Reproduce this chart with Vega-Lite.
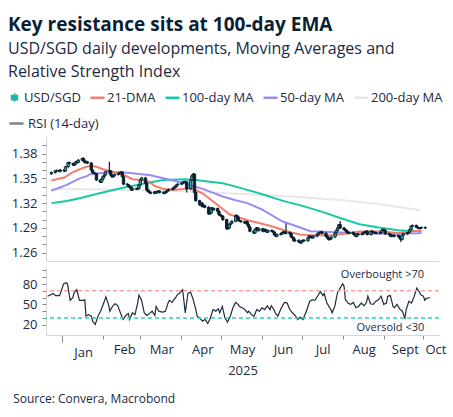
{
  "$schema": "https://vega.github.io/schema/vega-lite/v6.json",
  "padding": {"left": 8, "top": 16, "right": 4, "bottom": 6},
  "title": {
    "text": "Key resistance sits at 100-day EMA",
    "subtitle": ["USD/SGD daily developments, Moving Averages and", "Relative Strength Index"],
    "anchor": "start",
    "frame": "bounds",
    "font": "Open Sans",
    "fontSize": 19,
    "fontWeight": "bold",
    "color": "#0b1f35",
    "subtitleFont": "Open Sans",
    "subtitleFontSize": 16,
    "subtitleColor": "#1b2a45",
    "subtitleLineHeight": 23,
    "subtitlePadding": 6,
    "offset": 11
  },
  "datasets": {
    "candles": [
      {"d":"2024-12-20","o":1.3555,"h":1.3582,"l":1.3543,"c":1.3570},
      {"d":"2024-12-23","o":1.3570,"h":1.3602,"l":1.3558,"c":1.3590},
      {"d":"2024-12-24","o":1.3590,"h":1.3607,"l":1.3578,"c":1.3595},
      {"d":"2024-12-26","o":1.3595,"h":1.3607,"l":1.3573,"c":1.3585},
      {"d":"2024-12-27","o":1.3585,"h":1.3612,"l":1.3573,"c":1.3600},
      {"d":"2024-12-30","o":1.3600,"h":1.3612,"l":1.3578,"c":1.3590},
      {"d":"2024-12-31","o":1.3590,"h":1.3652,"l":1.3578,"c":1.3640},
      {"d":"2025-01-02","o":1.3640,"h":1.3702,"l":1.3628,"c":1.3690},
      {"d":"2025-01-03","o":1.3690,"h":1.3702,"l":1.3668,"c":1.3680},
      {"d":"2025-01-06","o":1.3680,"h":1.3692,"l":1.3648,"c":1.3660},
      {"d":"2025-01-07","o":1.3660,"h":1.3687,"l":1.3648,"c":1.3675},
      {"d":"2025-01-08","o":1.3675,"h":1.3712,"l":1.3663,"c":1.3700},
      {"d":"2025-01-09","o":1.3700,"h":1.3712,"l":1.3683,"c":1.3695},
      {"d":"2025-01-10","o":1.3695,"h":1.3732,"l":1.3683,"c":1.3720},
      {"d":"2025-01-13","o":1.3720,"h":1.3752,"l":1.3708,"c":1.3740},
      {"d":"2025-01-14","o":1.3740,"h":1.3752,"l":1.3698,"c":1.3710},
      {"d":"2025-01-15","o":1.3710,"h":1.3722,"l":1.3678,"c":1.3690},
      {"d":"2025-01-16","o":1.3690,"h":1.3712,"l":1.3678,"c":1.3700},
      {"d":"2025-01-17","o":1.3700,"h":1.3712,"l":1.3673,"c":1.3685},
      {"d":"2025-01-20","o":1.3685,"h":1.3697,"l":1.3588,"c":1.3600},
      {"d":"2025-01-21","o":1.3600,"h":1.3612,"l":1.3558,"c":1.3570},
      {"d":"2025-01-22","o":1.3570,"h":1.3582,"l":1.3548,"c":1.3560},
      {"d":"2025-01-23","o":1.3560,"h":1.3572,"l":1.3543,"c":1.3555},
      {"d":"2025-01-24","o":1.3555,"h":1.3567,"l":1.3468,"c":1.3480},
      {"d":"2025-01-27","o":1.3480,"h":1.3492,"l":1.3443,"c":1.3455},
      {"d":"2025-01-28","o":1.3455,"h":1.3502,"l":1.3443,"c":1.3490},
      {"d":"2025-01-29","o":1.3490,"h":1.3532,"l":1.3478,"c":1.3520},
      {"d":"2025-01-30","o":1.3520,"h":1.3552,"l":1.3508,"c":1.3540},
      {"d":"2025-01-31","o":1.3540,"h":1.3592,"l":1.3528,"c":1.3580},
      {"d":"2025-02-03","o":1.3580,"h":1.3700,"l":1.3568,"c":1.3590},
      {"d":"2025-02-04","o":1.3590,"h":1.3602,"l":1.3528,"c":1.3540},
      {"d":"2025-02-05","o":1.3540,"h":1.3552,"l":1.3508,"c":1.3520},
      {"d":"2025-02-06","o":1.3520,"h":1.3542,"l":1.3508,"c":1.3530},
      {"d":"2025-02-07","o":1.3530,"h":1.3557,"l":1.3518,"c":1.3545},
      {"d":"2025-02-10","o":1.3545,"h":1.3572,"l":1.3533,"c":1.3560},
      {"d":"2025-02-11","o":1.3560,"h":1.3582,"l":1.3548,"c":1.3570},
      {"d":"2025-02-12","o":1.3570,"h":1.3587,"l":1.3558,"c":1.3575},
      {"d":"2025-02-13","o":1.3575,"h":1.3587,"l":1.3508,"c":1.3520},
      {"d":"2025-02-14","o":1.3520,"h":1.3532,"l":1.3418,"c":1.3430},
      {"d":"2025-02-17","o":1.3430,"h":1.3442,"l":1.3408,"c":1.3420},
      {"d":"2025-02-18","o":1.3420,"h":1.3432,"l":1.3388,"c":1.3400},
      {"d":"2025-02-19","o":1.3400,"h":1.3412,"l":1.3378,"c":1.3390},
      {"d":"2025-02-20","o":1.3390,"h":1.3402,"l":1.3348,"c":1.3360},
      {"d":"2025-02-21","o":1.3360,"h":1.3387,"l":1.3348,"c":1.3375},
      {"d":"2025-02-24","o":1.3375,"h":1.3387,"l":1.3358,"c":1.3370},
      {"d":"2025-02-25","o":1.3370,"h":1.3392,"l":1.3358,"c":1.3380},
      {"d":"2025-02-26","o":1.3380,"h":1.3432,"l":1.3368,"c":1.3420},
      {"d":"2025-02-27","o":1.3420,"h":1.3492,"l":1.3408,"c":1.3480},
      {"d":"2025-02-28","o":1.3480,"h":1.3517,"l":1.3468,"c":1.3505},
      {"d":"2025-03-03","o":1.3505,"h":1.3517,"l":1.3428,"c":1.3440},
      {"d":"2025-03-04","o":1.3440,"h":1.3452,"l":1.3348,"c":1.3360},
      {"d":"2025-03-05","o":1.3360,"h":1.3372,"l":1.3328,"c":1.3340},
      {"d":"2025-03-06","o":1.3340,"h":1.3352,"l":1.3318,"c":1.3330},
      {"d":"2025-03-07","o":1.3330,"h":1.3342,"l":1.3308,"c":1.3320},
      {"d":"2025-03-10","o":1.3320,"h":1.3347,"l":1.3308,"c":1.3335},
      {"d":"2025-03-11","o":1.3335,"h":1.3347,"l":1.3313,"c":1.3325},
      {"d":"2025-03-12","o":1.3325,"h":1.3352,"l":1.3313,"c":1.3340},
      {"d":"2025-03-13","o":1.3340,"h":1.3357,"l":1.3328,"c":1.3345},
      {"d":"2025-03-14","o":1.3345,"h":1.3357,"l":1.3318,"c":1.3330},
      {"d":"2025-03-17","o":1.3330,"h":1.3342,"l":1.3308,"c":1.3320},
      {"d":"2025-03-18","o":1.3320,"h":1.3342,"l":1.3308,"c":1.3330},
      {"d":"2025-03-19","o":1.3330,"h":1.3352,"l":1.3318,"c":1.3340},
      {"d":"2025-03-20","o":1.3340,"h":1.3367,"l":1.3328,"c":1.3355},
      {"d":"2025-03-21","o":1.3355,"h":1.3377,"l":1.3343,"c":1.3365},
      {"d":"2025-03-24","o":1.3365,"h":1.3387,"l":1.3353,"c":1.3375},
      {"d":"2025-03-25","o":1.3375,"h":1.3402,"l":1.3363,"c":1.3390},
      {"d":"2025-03-26","o":1.3390,"h":1.3412,"l":1.3378,"c":1.3400},
      {"d":"2025-03-27","o":1.3400,"h":1.3432,"l":1.3388,"c":1.3420},
      {"d":"2025-03-28","o":1.3420,"h":1.3442,"l":1.3408,"c":1.3430},
      {"d":"2025-03-31","o":1.3430,"h":1.3452,"l":1.3418,"c":1.3440},
      {"d":"2025-04-01","o":1.3440,"h":1.3467,"l":1.3428,"c":1.3455},
      {"d":"2025-04-02","o":1.3455,"h":1.3472,"l":1.3443,"c":1.3460},
      {"d":"2025-04-03","o":1.3460,"h":1.3472,"l":1.3443,"c":1.3455},
      {"d":"2025-04-04","o":1.3455,"h":1.3467,"l":1.3330,"c":1.3370},
      {"d":"2025-04-07","o":1.3370,"h":1.3492,"l":1.3358,"c":1.3480},
      {"d":"2025-04-08","o":1.3480,"h":1.3542,"l":1.3468,"c":1.3530},
      {"d":"2025-04-09","o":1.3530,"h":1.3565,"l":1.3518,"c":1.3550},
      {"d":"2025-04-10","o":1.3550,"h":1.3562,"l":1.3318,"c":1.3330},
      {"d":"2025-04-11","o":1.3330,"h":1.3342,"l":1.3218,"c":1.3230},
      {"d":"2025-04-14","o":1.3230,"h":1.3242,"l":1.3168,"c":1.3180},
      {"d":"2025-04-15","o":1.3180,"h":1.3212,"l":1.3168,"c":1.3200},
      {"d":"2025-04-16","o":1.3200,"h":1.3212,"l":1.3148,"c":1.3160},
      {"d":"2025-04-17","o":1.3160,"h":1.3182,"l":1.3148,"c":1.3170},
      {"d":"2025-04-18","o":1.3170,"h":1.3182,"l":1.3138,"c":1.3150},
      {"d":"2025-04-21","o":1.3150,"h":1.3162,"l":1.3058,"c":1.3070},
      {"d":"2025-04-22","o":1.3070,"h":1.3092,"l":1.3058,"c":1.3080},
      {"d":"2025-04-23","o":1.3080,"h":1.3152,"l":1.3068,"c":1.3140},
      {"d":"2025-04-24","o":1.3140,"h":1.3152,"l":1.3108,"c":1.3120},
      {"d":"2025-04-25","o":1.3120,"h":1.3147,"l":1.3108,"c":1.3135},
      {"d":"2025-04-28","o":1.3135,"h":1.3147,"l":1.3088,"c":1.3100},
      {"d":"2025-04-29","o":1.3100,"h":1.3112,"l":1.3048,"c":1.3060},
      {"d":"2025-04-30","o":1.3060,"h":1.3072,"l":1.3038,"c":1.3050},
      {"d":"2025-05-01","o":1.3050,"h":1.3062,"l":1.3028,"c":1.3040},
      {"d":"2025-05-02","o":1.3040,"h":1.3052,"l":1.2988,"c":1.3000},
      {"d":"2025-05-05","o":1.3000,"h":1.3012,"l":1.2878,"c":1.2890},
      {"d":"2025-05-06","o":1.2890,"h":1.2912,"l":1.2878,"c":1.2900},
      {"d":"2025-05-07","o":1.2900,"h":1.2952,"l":1.2888,"c":1.2940},
      {"d":"2025-05-08","o":1.2940,"h":1.2972,"l":1.2928,"c":1.2960},
      {"d":"2025-05-09","o":1.2960,"h":1.2992,"l":1.2948,"c":1.2980},
      {"d":"2025-05-12","o":1.2980,"h":1.3062,"l":1.2968,"c":1.3050},
      {"d":"2025-05-13","o":1.3050,"h":1.3062,"l":1.3018,"c":1.3030},
      {"d":"2025-05-14","o":1.3030,"h":1.3042,"l":1.2978,"c":1.2990},
      {"d":"2025-05-15","o":1.2990,"h":1.3002,"l":1.2973,"c":1.2985},
      {"d":"2025-05-16","o":1.2985,"h":1.2997,"l":1.2963,"c":1.2975},
      {"d":"2025-05-19","o":1.2975,"h":1.2987,"l":1.2948,"c":1.2960},
      {"d":"2025-05-20","o":1.2960,"h":1.2987,"l":1.2948,"c":1.2975},
      {"d":"2025-05-21","o":1.2975,"h":1.2987,"l":1.2928,"c":1.2940},
      {"d":"2025-05-22","o":1.2940,"h":1.2952,"l":1.2898,"c":1.2910},
      {"d":"2025-05-23","o":1.2910,"h":1.2922,"l":1.2848,"c":1.2860},
      {"d":"2025-05-26","o":1.2860,"h":1.2872,"l":1.2828,"c":1.2840},
      {"d":"2025-05-27","o":1.2840,"h":1.2892,"l":1.2828,"c":1.2880},
      {"d":"2025-05-28","o":1.2880,"h":1.2912,"l":1.2868,"c":1.2900},
      {"d":"2025-05-29","o":1.2900,"h":1.2912,"l":1.2858,"c":1.2870},
      {"d":"2025-05-30","o":1.2870,"h":1.2902,"l":1.2858,"c":1.2890},
      {"d":"2025-06-02","o":1.2890,"h":1.2902,"l":1.2848,"c":1.2860},
      {"d":"2025-06-03","o":1.2860,"h":1.2892,"l":1.2848,"c":1.2880},
      {"d":"2025-06-04","o":1.2880,"h":1.2892,"l":1.2853,"c":1.2865},
      {"d":"2025-06-05","o":1.2865,"h":1.2877,"l":1.2838,"c":1.2850},
      {"d":"2025-06-06","o":1.2850,"h":1.2882,"l":1.2838,"c":1.2870},
      {"d":"2025-06-09","o":1.2870,"h":1.2882,"l":1.2848,"c":1.2860},
      {"d":"2025-06-10","o":1.2860,"h":1.2872,"l":1.2838,"c":1.2850},
      {"d":"2025-06-11","o":1.2850,"h":1.2862,"l":1.2803,"c":1.2815},
      {"d":"2025-06-12","o":1.2815,"h":1.2827,"l":1.2788,"c":1.2800},
      {"d":"2025-06-13","o":1.2800,"h":1.2832,"l":1.2788,"c":1.2820},
      {"d":"2025-06-16","o":1.2820,"h":1.2842,"l":1.2808,"c":1.2830},
      {"d":"2025-06-17","o":1.2830,"h":1.2857,"l":1.2818,"c":1.2845},
      {"d":"2025-06-18","o":1.2845,"h":1.2862,"l":1.2833,"c":1.2850},
      {"d":"2025-06-19","o":1.2850,"h":1.2862,"l":1.2823,"c":1.2835},
      {"d":"2025-06-20","o":1.2835,"h":1.2955,"l":1.2823,"c":1.2845},
      {"d":"2025-06-23","o":1.2845,"h":1.2857,"l":1.2818,"c":1.2830},
      {"d":"2025-06-24","o":1.2830,"h":1.2842,"l":1.2778,"c":1.2790},
      {"d":"2025-06-25","o":1.2790,"h":1.2802,"l":1.2768,"c":1.2780},
      {"d":"2025-06-26","o":1.2780,"h":1.2792,"l":1.2733,"c":1.2745},
      {"d":"2025-06-27","o":1.2745,"h":1.2762,"l":1.2733,"c":1.2750},
      {"d":"2025-06-30","o":1.2750,"h":1.2762,"l":1.2718,"c":1.2730},
      {"d":"2025-07-01","o":1.2730,"h":1.2742,"l":1.2708,"c":1.2720},
      {"d":"2025-07-02","o":1.2720,"h":1.2752,"l":1.2708,"c":1.2740},
      {"d":"2025-07-03","o":1.2740,"h":1.2762,"l":1.2728,"c":1.2750},
      {"d":"2025-07-04","o":1.2750,"h":1.2762,"l":1.2733,"c":1.2745},
      {"d":"2025-07-07","o":1.2745,"h":1.2792,"l":1.2733,"c":1.2780},
      {"d":"2025-07-08","o":1.2780,"h":1.2812,"l":1.2768,"c":1.2800},
      {"d":"2025-07-09","o":1.2800,"h":1.2812,"l":1.2778,"c":1.2790},
      {"d":"2025-07-10","o":1.2790,"h":1.2802,"l":1.2768,"c":1.2780},
      {"d":"2025-07-11","o":1.2780,"h":1.2812,"l":1.2768,"c":1.2800},
      {"d":"2025-07-14","o":1.2800,"h":1.2832,"l":1.2788,"c":1.2820},
      {"d":"2025-07-15","o":1.2820,"h":1.2852,"l":1.2808,"c":1.2840},
      {"d":"2025-07-16","o":1.2840,"h":1.2857,"l":1.2828,"c":1.2845},
      {"d":"2025-07-17","o":1.2845,"h":1.2862,"l":1.2833,"c":1.2850},
      {"d":"2025-07-18","o":1.2850,"h":1.2862,"l":1.2823,"c":1.2835},
      {"d":"2025-07-21","o":1.2835,"h":1.2847,"l":1.2788,"c":1.2800},
      {"d":"2025-07-22","o":1.2800,"h":1.2812,"l":1.2768,"c":1.2780},
      {"d":"2025-07-23","o":1.2780,"h":1.2792,"l":1.2748,"c":1.2760},
      {"d":"2025-07-24","o":1.2760,"h":1.2782,"l":1.2748,"c":1.2770},
      {"d":"2025-07-25","o":1.2770,"h":1.2802,"l":1.2758,"c":1.2790},
      {"d":"2025-07-28","o":1.2790,"h":1.2852,"l":1.2778,"c":1.2840},
      {"d":"2025-07-29","o":1.2840,"h":1.2882,"l":1.2828,"c":1.2870},
      {"d":"2025-07-30","o":1.2870,"h":1.2912,"l":1.2858,"c":1.2900},
      {"d":"2025-07-31","o":1.2900,"h":1.2952,"l":1.2888,"c":1.2940},
      {"d":"2025-08-01","o":1.2940,"h":1.2985,"l":1.2888,"c":1.2900},
      {"d":"2025-08-04","o":1.2900,"h":1.2912,"l":1.2868,"c":1.2880},
      {"d":"2025-08-05","o":1.2880,"h":1.2892,"l":1.2858,"c":1.2870},
      {"d":"2025-08-06","o":1.2870,"h":1.2882,"l":1.2838,"c":1.2850},
      {"d":"2025-08-07","o":1.2850,"h":1.2862,"l":1.2823,"c":1.2835},
      {"d":"2025-08-08","o":1.2835,"h":1.2857,"l":1.2823,"c":1.2845},
      {"d":"2025-08-11","o":1.2845,"h":1.2857,"l":1.2818,"c":1.2830},
      {"d":"2025-08-12","o":1.2830,"h":1.2842,"l":1.2803,"c":1.2815},
      {"d":"2025-08-13","o":1.2815,"h":1.2827,"l":1.2788,"c":1.2800},
      {"d":"2025-08-14","o":1.2800,"h":1.2837,"l":1.2788,"c":1.2825},
      {"d":"2025-08-15","o":1.2825,"h":1.2837,"l":1.2808,"c":1.2820},
      {"d":"2025-08-18","o":1.2820,"h":1.2842,"l":1.2808,"c":1.2830},
      {"d":"2025-08-19","o":1.2830,"h":1.2857,"l":1.2818,"c":1.2845},
      {"d":"2025-08-20","o":1.2845,"h":1.2862,"l":1.2833,"c":1.2850},
      {"d":"2025-08-21","o":1.2850,"h":1.2872,"l":1.2838,"c":1.2860},
      {"d":"2025-08-22","o":1.2860,"h":1.2872,"l":1.2808,"c":1.2820},
      {"d":"2025-08-25","o":1.2820,"h":1.2872,"l":1.2808,"c":1.2860},
      {"d":"2025-08-26","o":1.2860,"h":1.2872,"l":1.2838,"c":1.2850},
      {"d":"2025-08-27","o":1.2850,"h":1.2862,"l":1.2833,"c":1.2845},
      {"d":"2025-08-28","o":1.2845,"h":1.2857,"l":1.2828,"c":1.2840},
      {"d":"2025-08-29","o":1.2840,"h":1.2852,"l":1.2823,"c":1.2835},
      {"d":"2025-09-01","o":1.2835,"h":1.2857,"l":1.2823,"c":1.2845},
      {"d":"2025-09-02","o":1.2845,"h":1.2882,"l":1.2833,"c":1.2870},
      {"d":"2025-09-03","o":1.2870,"h":1.2892,"l":1.2858,"c":1.2880},
      {"d":"2025-09-04","o":1.2880,"h":1.2892,"l":1.2858,"c":1.2870},
      {"d":"2025-09-05","o":1.2870,"h":1.2882,"l":1.2818,"c":1.2830},
      {"d":"2025-09-08","o":1.2830,"h":1.2842,"l":1.2808,"c":1.2820},
      {"d":"2025-09-09","o":1.2820,"h":1.2832,"l":1.2788,"c":1.2800},
      {"d":"2025-09-10","o":1.2800,"h":1.2822,"l":1.2788,"c":1.2810},
      {"d":"2025-09-11","o":1.2810,"h":1.2822,"l":1.2788,"c":1.2800},
      {"d":"2025-09-12","o":1.2800,"h":1.2822,"l":1.2788,"c":1.2810},
      {"d":"2025-09-15","o":1.2810,"h":1.2822,"l":1.2788,"c":1.2800},
      {"d":"2025-09-16","o":1.2800,"h":1.2812,"l":1.2768,"c":1.2780},
      {"d":"2025-09-17","o":1.2780,"h":1.2792,"l":1.2730,"c":1.2760},
      {"d":"2025-09-18","o":1.2760,"h":1.2822,"l":1.2748,"c":1.2810},
      {"d":"2025-09-19","o":1.2810,"h":1.2842,"l":1.2798,"c":1.2830},
      {"d":"2025-09-22","o":1.2830,"h":1.2852,"l":1.2818,"c":1.2840},
      {"d":"2025-09-23","o":1.2840,"h":1.2862,"l":1.2828,"c":1.2850},
      {"d":"2025-09-24","o":1.2850,"h":1.2892,"l":1.2838,"c":1.2880},
      {"d":"2025-09-25","o":1.2880,"h":1.2932,"l":1.2868,"c":1.2920},
      {"d":"2025-09-26","o":1.2920,"h":1.2942,"l":1.2908,"c":1.2930},
      {"d":"2025-09-29","o":1.2930,"h":1.2942,"l":1.2898,"c":1.2910},
      {"d":"2025-09-30","o":1.2910,"h":1.2922,"l":1.2888,"c":1.2900},
      {"d":"2025-10-01","o":1.2900,"h":1.2912,"l":1.2883,"c":1.2895},
      {"d":"2025-10-02","o":1.2895,"h":1.2912,"l":1.2883,"c":1.2900},
      {"d":"2025-10-03","o":1.2900,"h":1.2917,"l":1.2888,"c":1.2905},
      {"d":"2025-10-06","o":1.2905,"h":1.2917,"l":1.2888,"c":1.2900}
    ],
    "ma": [
      {"d":"2024-12-20","s":"200-day MA","v":1.3370},
      {"d":"2025-02-01","s":"200-day MA","v":1.3365},
      {"d":"2025-03-02","s":"200-day MA","v":1.3355},
      {"d":"2025-04-02","s":"200-day MA","v":1.3345},
      {"d":"2025-04-17","s":"200-day MA","v":1.3335},
      {"d":"2025-05-17","s":"200-day MA","v":1.3310},
      {"d":"2025-06-24","s":"200-day MA","v":1.3280},
      {"d":"2025-08-04","s":"200-day MA","v":1.3235},
      {"d":"2025-09-01","s":"200-day MA","v":1.3187},
      {"d":"2025-10-02","s":"200-day MA","v":1.3114},
      {"d":"2024-12-20","s":"100-day MA","v":1.3200},
      {"d":"2025-01-01","s":"100-day MA","v":1.3227},
      {"d":"2025-01-11","s":"100-day MA","v":1.3260},
      {"d":"2025-01-24","s":"100-day MA","v":1.3310},
      {"d":"2025-02-06","s":"100-day MA","v":1.3360},
      {"d":"2025-02-18","s":"100-day MA","v":1.3400},
      {"d":"2025-02-28","s":"100-day MA","v":1.3430},
      {"d":"2025-03-06","s":"100-day MA","v":1.3450},
      {"d":"2025-03-17","s":"100-day MA","v":1.3480},
      {"d":"2025-04-02","s":"100-day MA","v":1.3490},
      {"d":"2025-04-11","s":"100-day MA","v":1.3480},
      {"d":"2025-04-22","s":"100-day MA","v":1.3460},
      {"d":"2025-05-02","s":"100-day MA","v":1.3440},
      {"d":"2025-05-12","s":"100-day MA","v":1.3400},
      {"d":"2025-05-21","s":"100-day MA","v":1.3360},
      {"d":"2025-06-01","s":"100-day MA","v":1.3310},
      {"d":"2025-06-17","s":"100-day MA","v":1.3230},
      {"d":"2025-07-02","s":"100-day MA","v":1.3170},
      {"d":"2025-07-17","s":"100-day MA","v":1.3100},
      {"d":"2025-08-01","s":"100-day MA","v":1.3020},
      {"d":"2025-08-16","s":"100-day MA","v":1.2944},
      {"d":"2025-08-31","s":"100-day MA","v":1.2904},
      {"d":"2025-09-15","s":"100-day MA","v":1.2872},
      {"d":"2025-09-25","s":"100-day MA","v":1.2864},
      {"d":"2025-10-03","s":"100-day MA","v":1.2860},
      {"d":"2024-12-20","s":"50-day MA","v":1.3350},
      {"d":"2025-01-01","s":"50-day MA","v":1.3420},
      {"d":"2025-01-11","s":"50-day MA","v":1.3500},
      {"d":"2025-01-17","s":"50-day MA","v":1.3530},
      {"d":"2025-01-19","s":"50-day MA","v":1.3550},
      {"d":"2025-02-01","s":"50-day MA","v":1.3570},
      {"d":"2025-02-15","s":"50-day MA","v":1.3570},
      {"d":"2025-02-28","s":"50-day MA","v":1.3550},
      {"d":"2025-03-06","s":"50-day MA","v":1.3540},
      {"d":"2025-03-17","s":"50-day MA","v":1.3500},
      {"d":"2025-04-02","s":"50-day MA","v":1.3440},
      {"d":"2025-04-17","s":"50-day MA","v":1.3370},
      {"d":"2025-05-02","s":"50-day MA","v":1.3280},
      {"d":"2025-05-12","s":"50-day MA","v":1.3235},
      {"d":"2025-05-21","s":"50-day MA","v":1.3200},
      {"d":"2025-06-01","s":"50-day MA","v":1.3126},
      {"d":"2025-06-17","s":"50-day MA","v":1.2980},
      {"d":"2025-07-02","s":"50-day MA","v":1.2900},
      {"d":"2025-07-09","s":"50-day MA","v":1.2860},
      {"d":"2025-07-17","s":"50-day MA","v":1.2856},
      {"d":"2025-07-24","s":"50-day MA","v":1.2850},
      {"d":"2025-08-01","s":"50-day MA","v":1.2845},
      {"d":"2025-08-16","s":"50-day MA","v":1.2835},
      {"d":"2025-08-31","s":"50-day MA","v":1.2830},
      {"d":"2025-09-15","s":"50-day MA","v":1.2830},
      {"d":"2025-09-30","s":"50-day MA","v":1.2835},
      {"d":"2025-10-03","s":"50-day MA","v":1.2840},
      {"d":"2024-12-20","s":"21-DMA","v":1.3475},
      {"d":"2024-12-30","s":"21-DMA","v":1.3510},
      {"d":"2025-01-05","s":"21-DMA","v":1.3570},
      {"d":"2025-01-11","s":"21-DMA","v":1.3610},
      {"d":"2025-01-16","s":"21-DMA","v":1.3640},
      {"d":"2025-01-20","s":"21-DMA","v":1.3650},
      {"d":"2025-01-24","s":"21-DMA","v":1.3640},
      {"d":"2025-01-29","s":"21-DMA","v":1.3610},
      {"d":"2025-02-06","s":"21-DMA","v":1.3580},
      {"d":"2025-02-13","s":"21-DMA","v":1.3550},
      {"d":"2025-02-21","s":"21-DMA","v":1.3490},
      {"d":"2025-02-28","s":"21-DMA","v":1.3480},
      {"d":"2025-03-06","s":"21-DMA","v":1.3460},
      {"d":"2025-03-10","s":"21-DMA","v":1.3410},
      {"d":"2025-03-17","s":"21-DMA","v":1.3370},
      {"d":"2025-03-25","s":"21-DMA","v":1.3360},
      {"d":"2025-04-01","s":"21-DMA","v":1.3370},
      {"d":"2025-04-07","s":"21-DMA","v":1.3390},
      {"d":"2025-04-11","s":"21-DMA","v":1.3360},
      {"d":"2025-04-17","s":"21-DMA","v":1.3310},
      {"d":"2025-04-22","s":"21-DMA","v":1.3250},
      {"d":"2025-04-27","s":"21-DMA","v":1.3190},
      {"d":"2025-05-02","s":"21-DMA","v":1.3130},
      {"d":"2025-05-07","s":"21-DMA","v":1.3065},
      {"d":"2025-05-12","s":"21-DMA","v":1.3040},
      {"d":"2025-05-17","s":"21-DMA","v":1.3015},
      {"d":"2025-05-22","s":"21-DMA","v":1.2990},
      {"d":"2025-05-30","s":"21-DMA","v":1.2960},
      {"d":"2025-06-09","s":"21-DMA","v":1.2920},
      {"d":"2025-06-16","s":"21-DMA","v":1.2885},
      {"d":"2025-06-24","s":"21-DMA","v":1.2845},
      {"d":"2025-07-01","s":"21-DMA","v":1.2820},
      {"d":"2025-07-09","s":"21-DMA","v":1.2810},
      {"d":"2025-07-16","s":"21-DMA","v":1.2810},
      {"d":"2025-07-24","s":"21-DMA","v":1.2810},
      {"d":"2025-07-31","s":"21-DMA","v":1.2820},
      {"d":"2025-08-08","s":"21-DMA","v":1.2840},
      {"d":"2025-08-16","s":"21-DMA","v":1.2856},
      {"d":"2025-08-31","s":"21-DMA","v":1.2856},
      {"d":"2025-09-15","s":"21-DMA","v":1.2840},
      {"d":"2025-09-25","s":"21-DMA","v":1.2856},
      {"d":"2025-10-03","s":"21-DMA","v":1.2870}
    ],
    "rsi": [
      {"d":"2024-12-21","v":62},{"d":"2024-12-25","v":66},{"d":"2024-12-27","v":63},{"d":"2024-12-30","v":63},
      {"d":"2024-12-31","v":68},{"d":"2025-01-02","v":80},{"d":"2025-01-04","v":82},{"d":"2025-01-05","v":80},
      {"d":"2025-01-07","v":56},{"d":"2025-01-09","v":60},{"d":"2025-01-10","v":67},{"d":"2025-01-12","v":71.7},
      {"d":"2025-01-14","v":56},{"d":"2025-01-17","v":56},{"d":"2025-01-18","v":57},{"d":"2025-01-19","v":32.7},
      {"d":"2025-01-21","v":35},{"d":"2025-01-23","v":32.7},{"d":"2025-01-24","v":25.4},{"d":"2025-01-26","v":20.5},
      {"d":"2025-01-28","v":32.7},{"d":"2025-01-30","v":40},{"d":"2025-02-01","v":50},{"d":"2025-02-03","v":61},
      {"d":"2025-02-05","v":50},{"d":"2025-02-06","v":40},{"d":"2025-02-08","v":47},{"d":"2025-02-10","v":51},
      {"d":"2025-02-12","v":48},{"d":"2025-02-14","v":37.6},{"d":"2025-02-16","v":27.8},{"d":"2025-02-18","v":33.7},
      {"d":"2025-02-20","v":36.6},{"d":"2025-02-21","v":27.8},{"d":"2025-02-23","v":37.6},{"d":"2025-02-25","v":35},
      {"d":"2025-02-27","v":52},{"d":"2025-02-28","v":63.5},{"d":"2025-03-02","v":56},{"d":"2025-03-04","v":37.6},
      {"d":"2025-03-06","v":33.7},{"d":"2025-03-08","v":36.6},{"d":"2025-03-10","v":40},{"d":"2025-03-12","v":33.7},
      {"d":"2025-03-13","v":47},{"d":"2025-03-15","v":40},{"d":"2025-03-18","v":38.6},{"d":"2025-03-20","v":40},
      {"d":"2025-03-22","v":52},{"d":"2025-03-23","v":56},{"d":"2025-03-25","v":53},{"d":"2025-03-28","v":61},
      {"d":"2025-03-29","v":64},{"d":"2025-03-31","v":67},{"d":"2025-04-02","v":71.7},{"d":"2025-04-04","v":37.6},
      {"d":"2025-04-06","v":66},{"d":"2025-04-08","v":68},{"d":"2025-04-10","v":57},{"d":"2025-04-12","v":42.4},
      {"d":"2025-04-13","v":32.7},{"d":"2025-04-15","v":30},{"d":"2025-04-17","v":25.4},{"d":"2025-04-19","v":27.8},
      {"d":"2025-04-21","v":22},{"d":"2025-04-23","v":30},{"d":"2025-04-25","v":42.4},{"d":"2025-04-27","v":40},
      {"d":"2025-04-29","v":43.4},{"d":"2025-04-30","v":37.6},{"d":"2025-05-02","v":47},{"d":"2025-05-04","v":30},
      {"d":"2025-05-06","v":23.9},{"d":"2025-05-08","v":32.7},{"d":"2025-05-10","v":45},{"d":"2025-05-12","v":53},
      {"d":"2025-05-14","v":50},{"d":"2025-05-15","v":47},{"d":"2025-05-17","v":45},{"d":"2025-05-19","v":42.4},
      {"d":"2025-05-21","v":37.6},{"d":"2025-05-22","v":40},{"d":"2025-05-24","v":35},{"d":"2025-05-26","v":32.7},
      {"d":"2025-05-28","v":42.4},{"d":"2025-05-30","v":40},{"d":"2025-06-01","v":45},{"d":"2025-06-03","v":42.4},
      {"d":"2025-06-05","v":48},{"d":"2025-06-07","v":42.4},{"d":"2025-06-08","v":48},{"d":"2025-06-10","v":42.4},
      {"d":"2025-06-11","v":37.6},{"d":"2025-06-13","v":32.7},{"d":"2025-06-15","v":42.4},{"d":"2025-06-17","v":50},
      {"d":"2025-06-18","v":53},{"d":"2025-06-20","v":52},{"d":"2025-06-22","v":42.4},{"d":"2025-06-24","v":37.6},
      {"d":"2025-06-26","v":33.7},{"d":"2025-06-28","v":27.8},{"d":"2025-06-30","v":31},{"d":"2025-07-02","v":27.8},
      {"d":"2025-07-03","v":32.7},{"d":"2025-07-05","v":42.4},{"d":"2025-07-07","v":54.6},{"d":"2025-07-09","v":57},
      {"d":"2025-07-11","v":56},{"d":"2025-07-13","v":62},{"d":"2025-07-15","v":69},{"d":"2025-07-17","v":63},
      {"d":"2025-07-18","v":66},{"d":"2025-07-20","v":52},{"d":"2025-07-23","v":42.4},{"d":"2025-07-24","v":37.6},
      {"d":"2025-07-26","v":47},{"d":"2025-07-28","v":67},{"d":"2025-07-30","v":74},{"d":"2025-08-01","v":80.5},
      {"d":"2025-08-02","v":76.6},{"d":"2025-08-03","v":57},{"d":"2025-08-05","v":52},{"d":"2025-08-07","v":50},
      {"d":"2025-08-09","v":53},{"d":"2025-08-11","v":45},{"d":"2025-08-13","v":47},{"d":"2025-08-15","v":52},
      {"d":"2025-08-17","v":48},{"d":"2025-08-19","v":53},{"d":"2025-08-20","v":62},{"d":"2025-08-22","v":51},
      {"d":"2025-08-24","v":50},{"d":"2025-08-26","v":54.6},{"d":"2025-08-28","v":57},{"d":"2025-08-30","v":62},
      {"d":"2025-09-01","v":50},{"d":"2025-09-03","v":52},{"d":"2025-09-04","v":62},{"d":"2025-09-06","v":63},
      {"d":"2025-09-08","v":47},{"d":"2025-09-09","v":45},{"d":"2025-09-11","v":50},{"d":"2025-09-13","v":43.4},
      {"d":"2025-09-15","v":40},{"d":"2025-09-17","v":30},{"d":"2025-09-18","v":42.4},{"d":"2025-09-20","v":54.6},
      {"d":"2025-09-22","v":52},{"d":"2025-09-24","v":62},{"d":"2025-09-26","v":74},{"d":"2025-09-28","v":68},
      {"d":"2025-09-29","v":64},{"d":"2025-10-01","v":62},{"d":"2025-10-02","v":56},{"d":"2025-10-03","v":58.6},
      {"d":"2025-10-06","v":60}
    ]
  },
  "vconcat": [
    {
      "width": 393,
      "height": 124,
      "data": {"name": "candles"},
      "encoding": {
        "x": {
          "field": "d",
          "type": "temporal",
          "scale": {"domain": [{"year": 2024, "month": 12, "date": 19, "hours": 18}, {"year": 2025, "month": 10, "date": 12, "hours": 18}]},
          "axis": {"labels": false, "ticks": false, "title": null, "grid": false, "domainColor": "#d6d6d6"}
        }
      },
      "layer": [
        {
          "data": {"name": "ma"},
          "mark": {"type": "line", "strokeWidth": 2},
          "encoding": {
            "y": {
              "field": "v",
              "type": "quantitative",
              "scale": {"domain": [1.25, 1.40], "nice": false, "zero": false},
              "axis": {
                "orient": "left",
                "title": null,
                "grid": false,
                "values": [1.26, 1.29, 1.32, 1.35, 1.38],
                "format": ".2f",
                "labelOverlap": false,
                "tickSize": 4,
                "tickColor": "#8c8c8c",
                "domainColor": "#d6d6d6",
                "labelPadding": 5,
                "labelFontSize": 13,
                "labelColor": "#1b2a45"
              }
            },
            "color": {
              "field": "s",
              "type": "nominal",
              "scale": {
                "domain": ["USD/SGD", "21-DMA", "100-day MA", "50-day MA", "200-day MA"],
                "range": ["#1fb5a3", "#f07d6e", "#19c9a5", "#9a8cf2", "#e8e8e8"]
              },
              "legend": {
                "orient": "none",
                "legendX": -38,
                "legendY": -46,
                "direction": "horizontal",
                "title": null,
                "labelFontSize": 13,
                "labelColor": "#1b2a45",
                "labelOffset": 3,
                "columnPadding": 4,
                "symbolSize": 196,
                "symbolType": "stroke",
                "symbolStrokeWidth": 2.5,
                "padding": 0,
                "encode": {
                  "symbols": {
                    "update": {
                      "shape": {"signal": "datum.value == 'USD/SGD' ? 'M-0.42,-0.3H0.42V0.3H-0.42Z M0,-0.6V-0.3 M0,0.3V0.6' : 'stroke'"},
                      "fill": {"signal": "datum.value == 'USD/SGD' ? '#1fb5a3' : 'transparent'"},
                      "stroke": {"signal": "datum.value == 'USD/SGD' ? '#0b1d2c' : scale('color', datum.value)"},
                      "strokeWidth": {"signal": "datum.value == 'USD/SGD' ? 1.6 : 2.5"}
                    }
                  }
                }
              }
            },
            "strokeWidth": {"condition": {"test": "datum.s === '200-day MA'", "value": 2.6}, "value": 2},
            "order": {"field": "d", "type": "temporal"}
          }
        },
        {
          "mark": {"type": "rule", "color": "#0b1d2c", "strokeWidth": 1.2},
          "encoding": {
            "y": {
              "field": "l",
              "type": "quantitative",
              "axis": {
                "orient": "left",
                "title": null,
                "grid": false,
                "labels": false,
                "domain": false,
                "values": [1.26, 1.27, 1.28, 1.29, 1.30, 1.31, 1.32, 1.33, 1.34, 1.35, 1.36, 1.37, 1.38, 1.39],
                "tickSize": 4,
                "tickColor": "#8c8c8c"
              }
            },
            "y2": {"field": "h"}
          }
        },
        {
          "mark": {"type": "bar", "width": 2.4, "stroke": "#0b1d2c", "strokeWidth": 0.9},
          "encoding": {
            "y": {"field": "o", "type": "quantitative", "axis": null},
            "y2": {"field": "c"},
            "color": {"condition": {"test": "datum.c < datum.o", "value": "#0b1d2c"}, "datum": "USD/SGD"}
          }
        }
      ],
      "resolve": {"axis": {"y": "independent"}}
    },
    {
      "width": 393,
      "height": 68,
      "title": {
        "text": "Source: Convera, Macrobond",
        "orient": "bottom",
        "anchor": "start",
        "frame": "bounds",
        "font": "Open Sans",
        "fontSize": 12,
        "fontWeight": "normal",
        "color": "#1b2a45",
        "offset": 17,
        "dx": -9
      },
      "layer": [
        {
          "data": {"name": "rsi"},
          "mark": {"type": "line", "strokeWidth": 1.2, "color": "#1e2c3b"},
          "encoding": {
            "x": {
              "field": "d",
              "type": "temporal",
              "scale": {"domain": [{"year": 2024, "month": 12, "date": 19, "hours": 18}, {"year": 2025, "month": 10, "date": 12, "hours": 18}]},
              "axis": {
                "title": "2025",
                "titleFontWeight": "normal",
                "titleFontSize": 13,
                "titleColor": "#1b2a45",
                "titlePadding": 5,
                "grid": false,
                "values": [
                  {"year": 2025, "month": 1, "date": 1}, {"year": 2025, "month": 2, "date": 1},
                  {"year": 2025, "month": 3, "date": 1}, {"year": 2025, "month": 4, "date": 1},
                  {"year": 2025, "month": 5, "date": 1}, {"year": 2025, "month": 6, "date": 1},
                  {"year": 2025, "month": 7, "date": 1}, {"year": 2025, "month": 8, "date": 1},
                  {"year": 2025, "month": 9, "date": 1}, {"year": 2025, "month": 10, "date": 1}
                ],
                "labelExpr": "month(datum.value) == 8 ? 'Sept' : timeFormat(datum.value, '%b')",
                "labelOffset": {"condition": {"test": "month(datum.value) == 9", "value": 12}, "value": 21},
                "tickSize": {"condition": {"test": "month(datum.value) == 0", "value": 7}, "value": 4},
                "labelFlush": false,
                "labelOverlap": false,
                "labelPadding": 4,
                "labelFontSize": 13,
                "labelColor": "#1b2a45",
                "tickColor": "#8c8c8c",
                "domainColor": "#d6d6d6"
              }
            },
            "y": {
              "field": "v",
              "type": "quantitative",
              "scale": {"domain": [5, 105], "nice": false, "zero": false},
              "axis": {
                "orient": "left",
                "title": null,
                "grid": false,
                "values": [20, 50, 80],
                "labelOverlap": false,
                "tickSize": 4,
                "tickColor": "#8c8c8c",
                "domainColor": "#d6d6d6",
                "labelPadding": 5,
                "labelFontSize": 13,
                "labelColor": "#1b2a45"
              }
            },
            "strokeDash": {
              "datum": "RSI (14-day)",
              "scale": {"domain": ["RSI (14-day)"], "range": [[1, 0]]},
              "legend": {
                "orient": "none",
                "legendX": -38,
                "legendY": -22,
                "title": null,
                "labelFontSize": 13,
                "labelColor": "#1b2a45",
                "labelOffset": 3,
                "symbolSize": 196,
                "symbolType": "stroke",
                "symbolStrokeWidth": 2.5,
                "symbolStrokeColor": "#7b848d",
                "padding": 0
              }
            }
          }
        },
        {
          "data": {"values": [{"level": 70}]},
          "mark": {"type": "rule", "color": "#f5a39b", "strokeWidth": 1.6, "strokeDash": [4, 3]},
          "encoding": {
            "y": {
              "field": "level",
              "type": "quantitative",
              "axis": {
                "orient": "left",
                "title": null,
                "grid": false,
                "labels": false,
                "domain": false,
                "values": [20, 30, 40, 50, 60, 70, 80, 90, 100],
                "tickSize": 4,
                "tickColor": "#8c8c8c"
              }
            }
          }
        },
        {
          "data": {"values": [{"level": 30}]},
          "mark": {"type": "rule", "color": "#2bd3b4", "strokeWidth": 1.6, "strokeDash": [4, 3]},
          "encoding": {"y": {"field": "level", "type": "quantitative", "axis": null}}
        },
        {
          "data": {"values": [{"d": "2025-08-31", "v": 93.7, "t": "Overbought >70"}, {"d": "2025-09-06", "v": 15.3, "t": "Oversold <30"}]},
          "mark": {"type": "text", "fontSize": 11, "color": "#1b2a45", "baseline": "middle", "align": "center"},
          "encoding": {
            "x": {"field": "d", "type": "temporal"},
            "y": {"field": "v", "type": "quantitative", "axis": null},
            "text": {"field": "t"}
          }
        }
      ],
      "resolve": {"axis": {"y": "independent"}}
    }
  ],
  "spacing": 6,
  "resolve": {
    "scale": {"color": "shared", "strokeDash": "shared"},
    "legend": {"color": "shared", "strokeDash": "shared"}
  },
  "config": {
    "font": "Open Sans",
    "view": {"stroke": null}
  }
}
